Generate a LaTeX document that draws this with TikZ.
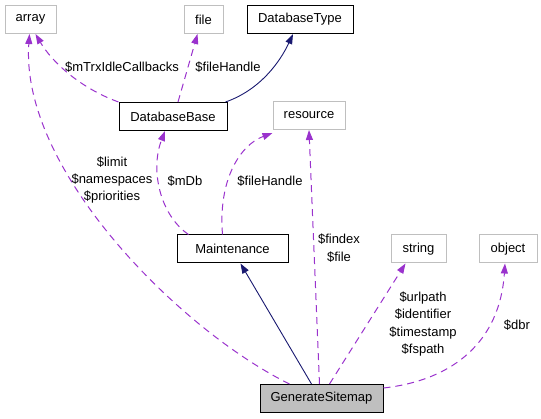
\documentclass[tikz,border=0pt]{standalone}
\usepackage{fontspec}
\setmainfont{Liberation Sans}
\usepackage{tikz}
\usetikzlibrary{arrows.meta}
\definecolor{edgepurple}{HTML}{9A32CD}
\definecolor{edgenavy}{HTML}{191970}
\definecolor{boxgrey}{HTML}{BFBFBF}
\tikzset{
  classnode/.style = {align=center, inner xsep=4pt, inner ysep=0pt,
    minimum height=28pt, font=\fontsize{13}{17.3}\selectfont},
  doc_node/.style = {classnode, rectangle, draw=black, line width=1pt},% classe documentee
  ext_node/.style = {classnode, rectangle, draw=boxgrey, line width=1pt},% classe externe
  main_node/.style = {doc_node, fill=boxgrey},% classe courante
  member_edge/.style = {edgepurple, line width=1pt, dash pattern=on 7pt off 5pt,
    -{Triangle[length=10pt,width=7pt]}},% membre utilise
  inherit_edge/.style = {edgenavy, line width=0.9pt,
    -{Triangle[length=10pt,width=7pt]}},% heritage public
  edge_label/.style = {align=center, inner sep=0pt,
    font=\fontsize{13}{17.3}\selectfont}
}
\begin{document}
\begin{tikzpicture}[x=1pt, y=-1pt]
    \useasboundingbox (0,0) rectangle (541,419);
    % noeuds
    \node [ext_node, minimum width=51pt] (array) at (30.5,19.5) {array};
    \node [ext_node, minimum width=39pt] (file) at (203.5,19.5) {file};
    \node [doc_node, minimum width=106pt] (dbtype) at (300,19.5) {DatabaseType};
    \node [doc_node, minimum width=108pt] (dbbase) at (173,116.5) {DatabaseBase};
    \node [ext_node, minimum width=72pt] (resource) at (309,115.5) {resource};
    \node [doc_node, minimum width=111pt] (maint) at (232.5,249) {Maintenance};
    \node [ext_node, minimum width=55pt] (string) at (418.5,249) {string};
    \node [ext_node, minimum width=58pt] (object) at (508,249) {object};
    \node [main_node, minimum width=123pt] (gen) at (321.5,398.5) {GenerateSitemap};
    % aretes
    \draw [member_edge] (dbbase.north west) .. controls (80,88) and (52,62) .. ([xshift=5pt]array.south);
    \draw [member_edge] ([xshift=5pt]dbbase.north) -- ([xshift=-6pt]file.south);
    \draw [inherit_edge] ([xshift=-2pt]dbbase.north east) .. controls (260,90) and (280,62) .. ([xshift=-7pt]dbtype.south);
    \draw [member_edge] ([xshift=-44pt]maint.north) .. controls (160,215) and (150,170) .. ([xshift=-8pt]dbbase.south);
    \draw [member_edge] ([xshift=-10pt]maint.north) .. controls (218,180) and (240,145) .. ([yshift=-3pt]resource.south west);
    \draw [inherit_edge] ([xshift=-10pt]gen.north) -- ([xshift=8pt]maint.south);
    \draw [member_edge] ([xshift=-32pt]gen.north) .. controls (180,330) and (20,170) .. ([xshift=-1pt]array.south);
    \draw [member_edge] ([xshift=-2pt]gen.north) -- (resource.south);
    \draw [member_edge] ([xshift=8pt]gen.north) -- ([xshift=-13pt]string.south);
    \draw [member_edge] ([yshift=-4pt]gen.north east) .. controls (455,380) and (500,340) .. ([xshift=-3pt]object.south);
    % etiquettes
    \node [edge_label] (lbl_idle) at (122,67) {\$mTrxIdleCallbacks};
    \node [edge_label] (lbl_fh1) at (228,67) {\$fileHandle};
    \node [edge_label] (lbl_arr) at (112,180) {\$limit\\\$namespaces\\\$priorities};
    \node [edge_label] (lbl_mdb) at (185,181) {\$mDb};
    \node [edge_label] (lbl_fh2) at (270,181) {\$fileHandle};
    \node [edge_label] (lbl_res) at (339,248) {\$findex\\\$file};
    \node [edge_label] (lbl_str) at (423,324) {\$urlpath\\\$identifier\\\$timestamp\\\$fspath};
    \node [edge_label] (lbl_obj) at (517,325) {\$dbr};
\end{tikzpicture}
\end{document}
